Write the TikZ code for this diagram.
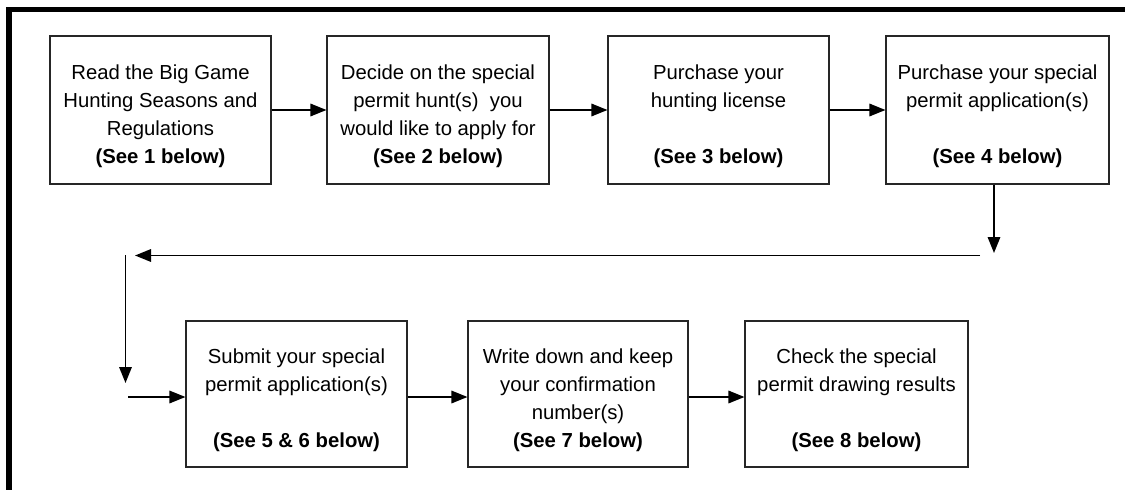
\documentclass[tikz,border=0pt]{standalone}
\usepackage{fontspec}
\setmainfont{Liberation Sans}
\usetikzlibrary{arrows.meta}
\newcommand{\tstrut}{\rule{0pt}{27pt}}
\begin{document}
\begin{tikzpicture}[x=1pt,y=-1pt,
  stepbox/.style={draw=black!85,line width=1.1pt,rectangle,minimum height=148pt,
    align=center,inner sep=0pt,font=\fontsize{20.3}{28.2}\selectfont},
  flow/.style={line width=1.7pt,-{Triangle[length=16pt,width=12.5pt]}}]
\useasboundingbox (0,0) rectangle (1125,490);
\draw[line width=5.5pt] (9,490) -- (9,9.5) -- (1125,9.5);
% row 1
\node[stepbox,minimum width=221pt] (b1) at (160.5,110)
  {\tstrut Read the Big Game\\Hunting Seasons and\\Regulations\\\textbf{(See 1 below)}};
\node[stepbox,minimum width=222pt] (b2) at (438,110)
  {\tstrut Decide on the special\\permit hunt(s) \ you\\would like to apply for\\\textbf{(See 2 below)}};
\node[stepbox,minimum width=221pt] (b3) at (718.5,110)
  {\tstrut Purchase your\\hunting license\\\mbox{}\\\textbf{(See 3 below)}};
\node[stepbox,minimum width=223pt] (b4) at (997.5,110)
  {\tstrut Purchase your special\\permit application(s)\\\mbox{}\\\textbf{(See 4 below)}};
% row 2
\node[stepbox,minimum width=221pt,minimum height=146pt] (b5) at (296.5,394)
  {\tstrut Submit your special\\permit application(s)\\\mbox{}\\\textbf{(See 5 \& 6 below)}};
\node[stepbox,minimum width=220pt,minimum height=146pt] (b6) at (578,394)
  {\tstrut Write down and keep\\your confirmation\\number(s)\\\textbf{(See 7 below)}};
\node[stepbox,minimum width=223pt,minimum height=146pt] (b7) at (856.5,394)
  {\tstrut Check the special\\permit drawing results\\\mbox{}\\\textbf{(See 8 below)}};
% connectors row 1
\draw[flow] (b1.east) -- (b2.west);
\draw[flow] (b2.east) -- (b3.west);
\draw[flow] (b3.east) -- (b4.west);
% return path
\coordinate (d1) at (994,253);
\coordinate (h1) at (980,255.5);
\coordinate (h2) at (135,255.5);
\coordinate (v1) at (125.5,255);
\coordinate (v2) at (125.5,383);
\coordinate (i1) at (128,397);
\draw[flow] (b4.south -| d1) -- (d1);
\draw[flow] (h1) -- (h2);
\draw[flow] (v1) -- (v2);
\draw[flow] (i1) -- (i1 -| b5.west);
% connectors row 2
\draw[flow] ([yshift=-3pt]b5.east) -- ([yshift=-3pt]b6.west);
\draw[flow] ([yshift=-3pt]b6.east) -- ([yshift=-3pt]b7.west);
\end{tikzpicture}
\end{document}
